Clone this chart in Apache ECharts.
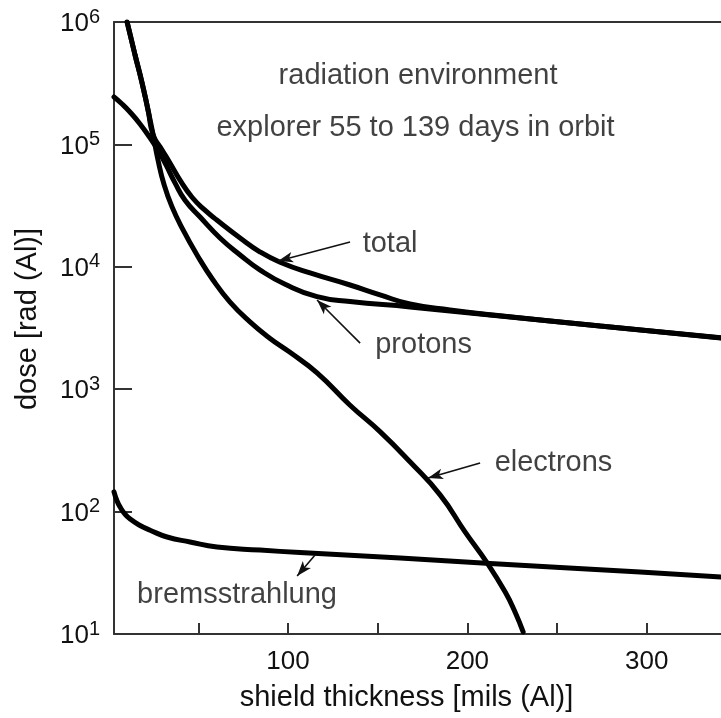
<!DOCTYPE html>
<html>
<head>
<meta charset="utf-8">
<script src="https://cdn.jsdelivr.net/npm/echarts@6/dist/echarts.min.js"></script>
<style>
  html, body { margin: 0; padding: 0; background: #ffffff; }
  #chart { width: 721px; height: 718px; }
</style>
</head>
<body>
<div id="chart"></div>
<script>
// Shield thickness in mils of aluminium, dose in rad(Al)
const electronsMils = [10.3, 14.7, 18.6, 22.0, 24.8, 27.5, 30.9, 35.3, 41.5, 49.3, 58.2, 67.7, 78.8, 90.0, 101.1, 116.2, 134.6, 151.3, 168.0, 184.8, 198.8, 211.1, 221.1, 226.7, 231.1];
const electronsDose = [1.0e6, 5.4e5, 3.2e5, 1.9e5, 1.2e5, 7.5e4, 4.7e4, 3.1e4, 2.0e4, 1.25e4, 7.8e3, 5.15e3, 3.55e3, 2.6e3, 2.0e3, 1.36e3, 740, 450, 255, 137, 68, 38, 22, 15, 10.4];

const protonsMils = [3.0, 7.5, 11.9, 17.5, 23.1, 27.5, 32.0, 37.0, 42.6, 51.0, 62.1, 73.3, 84.5, 98.4, 116.2, 134.6, 168.0, 218.2, 274.0, 341.4];
const protonsDose = [2.44e5, 2.14e5, 1.84e5, 1.47e5, 1.13e5, 9.0e4, 6.8e4, 4.85e4, 3.5e4, 2.55e4, 1.72e4, 1.25e4, 9.4e3, 7.2e3, 5.7e3, 5.2e3, 4.7e3, 3.96e3, 3.28e3, 2.62e3];

const totalMils = [10.3, 14.7, 18.6, 22.0, 24.8, 29.8, 34.2, 39.8, 46.5, 53.7, 60.5, 73.3, 84.5, 95.6, 112.3, 134.6, 151.3, 168.0, 190.3, 218.2, 274.0, 341.4];
const totalDose = [1.0e6, 5.4e5, 3.2e5, 1.9e5, 1.2e5, 9.0e4, 7.05e4, 5.1e4, 3.7e4, 2.9e4, 2.4e4, 1.72e4, 1.32e4, 1.09e4, 8.9e3, 7.1e3, 5.9e3, 4.97e3, 4.44e3, 3.98e3, 3.29e3, 2.63e3];

const bremsMils = [3.0, 4.7, 6.4, 9.1, 12.0, 17.0, 23.1, 32.6, 45.4, 60.4, 84.4, 106.7, 162.5, 212.7, 251.7, 296.3, 341.4];
const bremsDose = [145, 122, 109, 95.5, 87, 77.7, 70.5, 62, 56.5, 51.4, 48.5, 46.3, 41.8, 37.7, 34.9, 32.1, 29.2];

// Axis ticks and labels
const xTickValues = [50, 100, 150, 200, 250, 300];
const xLabelValues = [100, 200, 300];
const xMin = 3;
const xMax = 341.4;
const yMin = 10;
const yMax = 1e6;

// Text notes and pointer arrows, placed in data units
const noteText = ['radiation environment', 'explorer 55 to 139 days in orbit', 'total', 'protons', 'electrons', 'bremsstrahlung'];
const noteMils = [172.5, 171.1, 156.9, 175.6, 248.0, 71.6];
const noteDose = [3.62e5, 1.374e5, 1.535e4, 2.30e3, 249, 21.0];

const arrowFromMils = [134.6, 140.2, 207.1, 115.1];
const arrowFromDose = [1.596e4, 2.38e3, 249, 44.2];
const arrowToMils = [94.5, 116.2, 178.1, 105.1];
const arrowToDose = [1.114e4, 5.36e3, 188, 29.8];

const FONT = '"Liberation Sans", Arial, Helvetica, sans-serif';
const TEXT_COLOR = '#111111';
const AXIS_COLOR = '#333333';

const pairs = (xs, ys) => xs.map((x, i) => [x, ys[i]]);

function curve(name, xs, ys) {
  return {
    name: name,
    type: 'line',
    data: pairs(xs, ys),
    showSymbol: false,
    smooth: 0.5,
    clip: true,
    silent: true,
    lineStyle: { color: '#000000', width: 5, cap: 'round', join: 'round' },
    z: 3
  };
}

const chart = echarts.init(document.getElementById('chart'), null, { renderer: 'canvas' });

chart.setOption({
  animation: false,
  backgroundColor: '#ffffff',
  textStyle: { fontFamily: FONT },
  grid: { left: 114, right: 0, top: 22, bottom: 84, containLabel: false },
  xAxis: [
    {
      type: 'value',
      position: 'bottom',
      min: xMin,
      max: xMax,
      name: 'shield thickness [mils (Al)]',
      nameLocation: 'middle',
      nameGap: 49,
      nameTextStyle: { fontSize: 29, color: TEXT_COLOR, fontFamily: FONT, padding: [0, 22, 0, 0] },
      axisLine: { show: true, onZero: false, lineStyle: { color: AXIS_COLOR, width: 2 } },
      axisTick: { show: true, inside: true, length: 11, customValues: xTickValues, lineStyle: { color: AXIS_COLOR, width: 2 } },
      axisLabel: { show: true, margin: 15, fontSize: 26, color: TEXT_COLOR, fontFamily: FONT, customValues: xLabelValues },
      splitLine: { show: false }
    },
    {
      type: 'value',
      position: 'top',
      min: xMin,
      max: xMax,
      axisLine: { show: true, onZero: false, lineStyle: { color: AXIS_COLOR, width: 2 } },
      axisTick: { show: false },
      axisLabel: { show: false },
      splitLine: { show: false }
    }
  ],
  yAxis: {
    type: 'log',
    logBase: 10,
    min: yMin,
    max: yMax,
    name: 'dose [rad (Al)]',
    nameLocation: 'middle',
    nameGap: 72,
    nameRotate: 90,
    nameTextStyle: { fontSize: 29, color: TEXT_COLOR, fontFamily: FONT, padding: [0, 0, 0, 18] },
    axisLine: { show: true, onZero: false, lineStyle: { color: AXIS_COLOR, width: 2 } },
    axisTick: { show: true, inside: true, length: 18, lineStyle: { color: AXIS_COLOR, width: 2 } },
    minorTick: { show: false },
    splitLine: { show: false },
    axisLabel: {
      margin: 14,
      color: TEXT_COLOR,
      fontFamily: FONT,
      formatter: function (v) {
        const e = Math.round(Math.log10(v));
        return '{b|10}{s|' + e + '}';
      },
      rich: {
        b: { fontSize: 26, lineHeight: 30, color: TEXT_COLOR, fontFamily: FONT, verticalAlign: 'bottom' },
        s: { fontSize: 20, lineHeight: 22, color: TEXT_COLOR, fontFamily: FONT, verticalAlign: 'top' }
      }
    }
  },
  series: [
    curve('electrons', electronsMils, electronsDose),
    curve('protons', protonsMils, protonsDose),
    curve('total', totalMils, totalDose),
    curve('bremsstrahlung', bremsMils, bremsDose),
    {
      name: 'notes',
      type: 'scatter',
      silent: true,
      symbolSize: 0,
      z: 5,
      data: noteText.map((t, i) => ({ name: t, value: [noteMils[i], noteDose[i]] })),
      label: {
        show: true,
        position: 'inside',
        formatter: p => p.name,
        fontSize: 29,
        color: TEXT_COLOR,
        fontFamily: FONT
      },
      labelLayout: { hideOverlap: false },
      markLine: {
        silent: true,
        symbol: ['none', 'arrow'],
        symbolSize: [8, 15],
        label: { show: false },
        lineStyle: { type: 'solid', color: '#111111', width: 1.6 },
        data: arrowFromMils.map((x, i) => [
          { coord: [x, arrowFromDose[i]] },
          { coord: [arrowToMils[i], arrowToDose[i]] }
        ])
      }
    }
  ]
});
</script>
</body>
</html>
